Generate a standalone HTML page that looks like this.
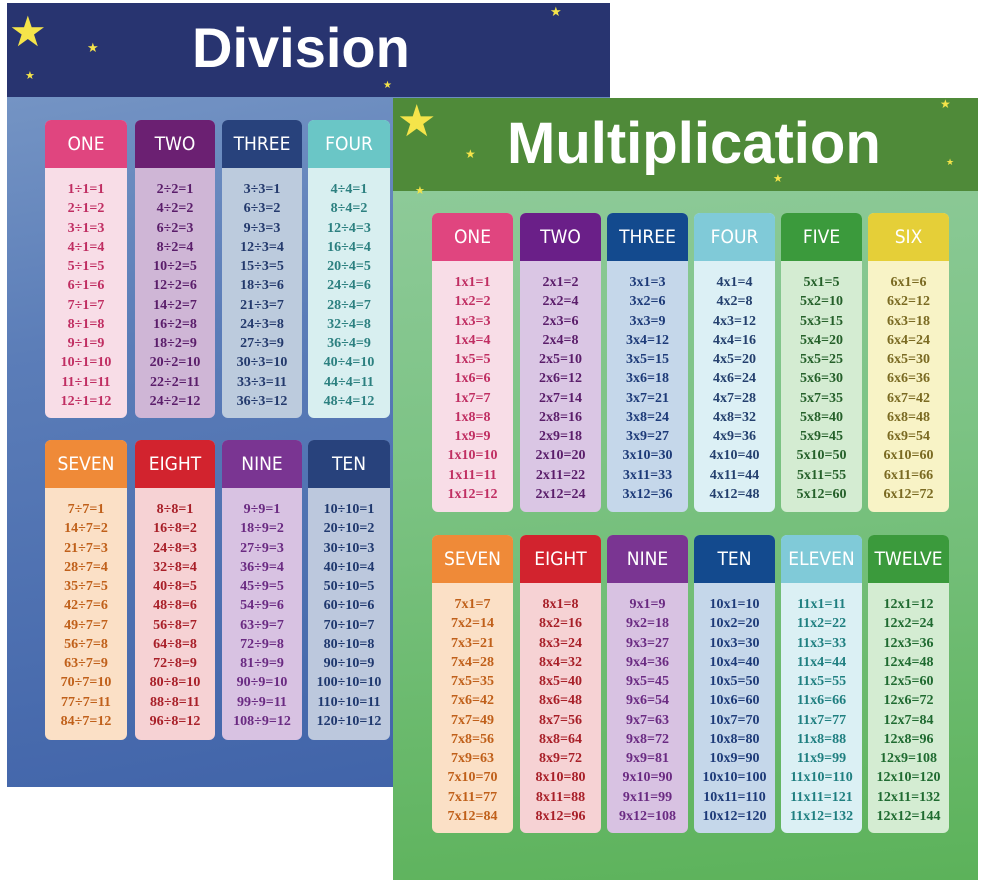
<!DOCTYPE html>
<html><head><meta charset="utf-8">
<style>
*{margin:0;padding:0;box-sizing:border-box}
body{width:1000px;height:883px;background:#fff;position:relative;overflow:hidden;font-family:"Liberation Sans",sans-serif}
.poster{position:absolute}
#div{left:7px;top:3px;width:603px;height:784px;background:linear-gradient(170deg,#7d9cc8 0%,#5b7db8 40%,#3f62a8 100%)}
#div .hd{position:absolute;left:0;top:0;width:100%;height:94px;background:#283470}
#mul{left:393px;top:98px;width:585px;height:782px;background:linear-gradient(175deg,#93cc9f 0%,#7cc384 45%,#5cb25a 100%)}
#mul .hd{position:absolute;left:0;top:0;width:100%;height:93px;background:#4f8a39}
.title{position:absolute;color:#fff;font-weight:bold;font-family:"Liberation Sans",sans-serif;white-space:nowrap}
.col{position:absolute;border-radius:6px;overflow:hidden}
.col .h{height:48px;color:#fff;font-size:19px;text-align:center;line-height:48px;font-family:"DejaVu Sans Condensed","Liberation Sans",sans-serif}
.col .b{text-align:center;font-family:"Liberation Serif",serif;font-weight:bold;font-size:14px;padding-top:12px}
.col .b div{height:19.25px;line-height:19px}
.star{position:absolute;color:#f5e44a;line-height:1}
</style></head><body>
<div class="poster" id="div"><div class="hd"></div>
<div class="title" style="left:185px;top:12px;font-size:56px">Division</div>
<div class="star" style="left:2px;top:8px;font-size:42px">★</div>
<div class="star" style="left:80px;top:38px;font-size:13px">★</div>
<div class="star" style="left:18px;top:68px;font-size:11px">★</div>
<div class="star" style="left:376px;top:78px;font-size:10px">★</div>
<div class="star" style="left:543px;top:2px;font-size:13px">★</div>
</div>
<div class="poster" id="mul"><div class="hd"></div>
<div class="title" style="left:114px;top:12px;font-size:58px">Multiplication</div>
<div class="star" style="left:4px;top:2px;font-size:44px">★</div>
<div class="star" style="left:72px;top:50px;font-size:12px">★</div>
<div class="star" style="left:22px;top:88px;font-size:11px">★</div>
<div class="star" style="left:380px;top:76px;font-size:11px">★</div>
<div class="star" style="left:547px;top:0px;font-size:12px">★</div>
<div class="star" style="left:553px;top:60px;font-size:9px">★</div>
</div>
<div id="cols"></div>
<script>
var C={
one:['#e0457f','#f8dde7','#c02e62'],two:['#6b2072','#cfb6d6','#5a1d6a'],three:['#28427c','#bccbdd','#23396c'],four:['#6ac6c6','#d8eff0','#2c8080'],
seven:['#ef8a38','#fbe0c6','#c0601a'],eight:['#d2232e','#f6d2d4','#a81f28'],nine:['#7a3592','#d8c2e2','#6a2a82'],ten:['#28427c','#bcc8dd','#1f386e'],
mthree:['#134a8e','#c5d7ea','#1d3a78'],mfour:['#80cad8','#dcf0f5','#24406e'],five:['#3b9a3c','#d4ecd2','#25602a'],six:['#e5cf38','#f8f3c6','#7a6a22'],
eleven:['#80cad8','#dbf0f4','#1f7f80'],twelve:['#3b9a3c','#d4ecd2','#1f6a30'],mtwo:['#6a1f88','#dac6e4','#5a1d6a']};
var names=['ONE','TWO','THREE','FOUR','FIVE','SIX','SEVEN','EIGHT','NINE','TEN','ELEVEN','TWELVE'];
var out='';
function col(x,y,w,h,n,cc,op){
 var s='<div class="col" style="left:'+x+'px;top:'+y+'px;width:'+w+'px;height:'+h+'px;background:'+cc[1]+'"><div class="h" style="background:'+cc[0]+'">'+names[n-1]+'</div><div class="b" style="color:'+cc[2]+'">';
 for(var i=1;i<=12;i++){s+= op=='d' ? '<div>'+(n*i)+'÷'+n+'='+i+'</div>' : '<div>'+n+'x'+i+'='+(n*i)+'</div>';}
 return s+'</div></div>';
}
var dx=[45,135,222,308],dw=[82,80,80,82];
var dt=[C.one,C.two,C.three,C.four],db=[C.seven,C.eight,C.nine,C.ten];
for(var i=0;i<4;i++){out+=col(dx[i],120,dw[i],298,i+1,dt[i],'d');out+=col(dx[i],440,dw[i],300,[7,8,9,10][i],db[i],'d');}
var mx=[432,520,607,694,781,868];
var mt=[C.one,C.mtwo,C.mthree,C.mfour,C.five,C.six],mb=[C.seven,C.eight,C.nine,C.mthree,C.eleven,C.twelve];
for(var i=0;i<6;i++){out+=col(mx[i],213,81,299,i+1,mt[i],'m');out+=col(mx[i],535,81,298,i+7,mb[i],'m');}
document.getElementById('cols').innerHTML=out;
</script>
</body></html>
